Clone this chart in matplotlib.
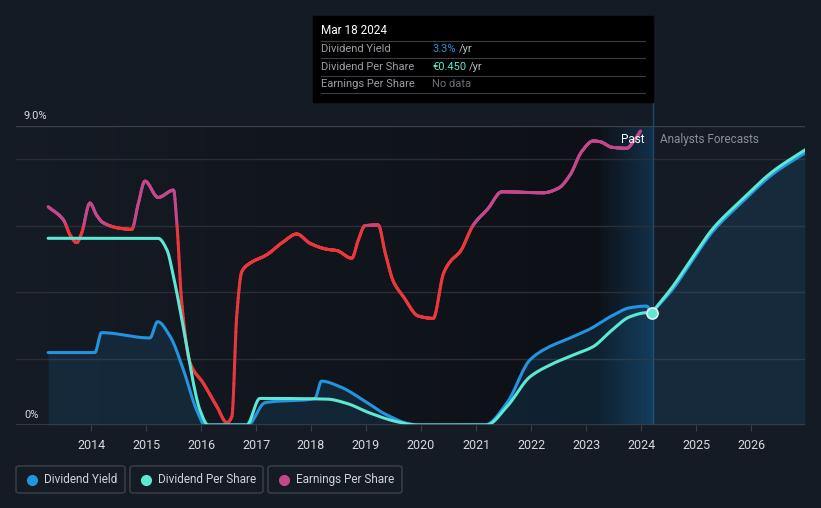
import numpy as np
import matplotlib
matplotlib.use("Agg")
import matplotlib.pyplot as plt
from matplotlib.collections import LineCollection
from matplotlib.colors import LinearSegmentedColormap
from matplotlib.patches import FancyBboxPatch, Rectangle

plt.rcParams['font.family'] = ['Roboto', 'DejaVu Sans']

# Dividend yield (%), past
dy_years = [2013.22, 2014.07, 2014.19, 2015.07, 2015.21, 2015.44, 2015.68, 2015.92, 2016.07,
            2016.85, 2017.16, 2018.07, 2018.19, 2018.53, 2018.95, 2019.38, 2019.80, 2019.98,
            2021.16, 2021.56, 2021.98, 2022.29, 2022.71, 2023.07, 2023.44, 2023.80, 2024.10, 2024.19]
dy_vals = [2.18, 2.18, 2.78, 2.62, 3.11, 2.66, 1.66, 0.45, 0.0,
           0.0, 0.67, 0.80, 1.32, 1.15, 0.75, 0.30, 0.03, 0.0,
           0.0, 0.66, 1.96, 2.32, 2.62, 2.89, 3.26, 3.53, 3.58, 3.37]

# Dividend per share (scaled onto the same axis), past
dps_years = [2013.22, 2015.22, 2015.38, 2015.50, 2015.62, 2015.74, 2015.86, 2015.98, 2016.13,
             2016.83, 2017.07, 2018.29, 2018.65, 2019.07, 2019.56, 2019.92,
             2021.19, 2021.56, 2021.98, 2022.35, 2022.77, 2023.13, 2023.44, 2023.80, 2024.10, 2024.19]
dps_vals = [5.62, 5.62, 5.27, 4.46, 3.46, 2.36, 1.26, 0.45, 0.0,
            0.0, 0.80, 0.78, 0.65, 0.36, 0.10, 0.0,
            0.0, 0.55, 1.45, 1.81, 2.11, 2.36, 2.81, 3.26, 3.38, 3.37]

# Forecasts
fc_years = [2024.19, 2024.59, 2024.89, 2025.31, 2025.80, 2026.40, 2026.98]
fc_dy = [3.37, 4.12, 4.85, 5.84, 6.65, 7.56, 8.19]
fc_dps = [3.37, 4.20, 4.93, 5.92, 6.73, 7.64, 8.28]

# Earnings per share (scaled onto the same axis)
eps_years = [2013.22, 2013.50, 2013.62, 2013.74, 2013.83, 2013.98, 2014.10, 2014.22, 2014.53, 2014.74,
             2014.86, 2014.98, 2015.22, 2015.50, 2015.56, 2015.65, 2015.80, 2016.04, 2016.29, 2016.47,
             2016.56, 2016.65, 2016.74, 2016.89, 2017.19, 2017.50, 2017.74, 2017.98, 2018.29, 2018.47,
             2018.74, 2018.86, 2018.98, 2019.22, 2019.35, 2019.50, 2019.68, 2019.95, 2020.22, 2020.41,
             2020.53, 2020.71, 2020.95, 2021.22, 2021.47, 2022.22, 2022.50, 2022.71, 2022.92, 2023.13,
             2023.25, 2023.47, 2023.74, 2023.86, 2023.99]
eps_vals = [6.57, 6.17, 5.72, 5.49, 5.78, 6.68, 6.32, 6.09, 5.92, 5.89,
            6.67, 7.34, 6.85, 7.07, 6.08, 3.67, 1.87, 1.26, 0.55, 0.07,
            0.25, 3.31, 4.61, 4.87, 5.12, 5.52, 5.75, 5.47, 5.29, 5.25,
            5.02, 5.57, 6.00, 6.02, 5.17, 4.31, 3.86, 3.28, 3.21, 4.57,
            4.92, 5.22, 6.02, 6.52, 7.02, 6.99, 7.13, 7.53, 8.23, 8.55,
            8.53, 8.36, 8.33, 8.53, 8.85]

year_ticks = list(range(2014, 2027))
now = 2024.21
past_start = 2023.2

BG = '#151b24'
BLUE = '#2394df'
TEAL = '#5de8d4'
PINK = '#c2478b'
RED = '#e8383d'


def smooth(xs, ys, n=1200):
    # monotone cubic (pchip) just for drawing a smooth curve through the read points
    x = np.asarray(xs, float)
    y = np.asarray(ys, float)
    h = np.diff(x)
    d = np.diff(y) / h
    m = np.zeros_like(y)
    for k in range(1, len(x) - 1):
        if d[k - 1] * d[k] > 0:
            w1 = 2 * h[k] + h[k - 1]
            w2 = h[k] + 2 * h[k - 1]
            m[k] = (w1 + w2) / (w1 / d[k - 1] + w2 / d[k])
    m[0] = d[0]
    m[-1] = d[-1]
    xn = np.linspace(x[0], x[-1], n)
    i = np.clip(np.searchsorted(x, xn) - 1, 0, len(x) - 2)
    t = (xn - x[i]) / h[i]
    h00 = 2 * t**3 - 3 * t**2 + 1
    h10 = t**3 - 2 * t**2 + t
    h01 = -2 * t**3 + 3 * t**2
    h11 = t**3 - t**2
    yn = h00 * y[i] + h10 * h[i] * m[i] + h01 * y[i + 1] + h11 * h[i] * m[i + 1]
    return xn, yn


W, H = 821, 508
fig = plt.figure(figsize=(W / 100, H / 100), dpi=100, facecolor=BG)
ax = fig.add_axes([16 / W, 1 - 425 / H, (805 - 16) / W, (425 - 126) / H])
ax.set_facecolor(BG)
ax.set_xlim(2012.636, 2026.98)
ax.set_ylim(0, 9)

# darker past background, then blue highlight for last year
grad = np.linspace(0, 1, 256).reshape(1, -1)
dark = LinearSegmentedColormap.from_list('d', [BG, '#0d1016'])
ax.imshow(grad, cmap=dark, extent=[2013.22, past_start, 0, 9], aspect='auto', zorder=0)
hl = LinearSegmentedColormap.from_list('h', ['#0d1117', '#12304a'])
ax.imshow(grad, cmap=hl, extent=[past_start, now, 0, 9], aspect='auto', zorder=0)

for g in [2, 4, 6, 8]:
    ax.axhline(g, color='#2a2f37', lw=1, zorder=1)
ax.axhline(9, color='#3b4048', lw=1, zorder=1)
ax.axhline(0, color='#3b4048', lw=1.2, zorder=5)

dyx, dyy = smooth(dy_years, dy_vals)
dpx, dpy = smooth(dps_years, dps_vals)
fcx, fcy = smooth(fc_years, fc_dy, 300)
fcx2, fcy2 = smooth(fc_years, fc_dps, 300)

# area fills
ax.fill_between(dyx, 0, dyy, color=BLUE, alpha=0.13, lw=0, zorder=2)
ax.fill_between(fcx2, 0, fcy2, color=BLUE, alpha=0.13, lw=0, zorder=2)

# EPS line coloured by level
xe, ye = smooth(eps_years, eps_vals, 1500)
pts = np.column_stack([xe, ye]).reshape(-1, 1, 2)
segs = np.concatenate([pts[:-1], pts[1:]], axis=1)
cm = LinearSegmentedColormap.from_list('e', [(0, RED), (0.45, RED), (0.55, PINK), (1, PINK)])
lc = LineCollection(segs, cmap=cm, norm=plt.Normalize(5.4, 6.6), lw=2.2, capstyle='round', zorder=3)
lc.set_array((ye[:-1] + ye[1:]) / 2)
ax.add_collection(lc)

ax.plot(dyx, dyy, color=BLUE, lw=2.2, solid_capstyle='round', zorder=4)
ax.plot(dpx, dpy, color=TEAL, lw=2.2, solid_capstyle='round', zorder=4)
ax.plot(fcx, fcy, color=BLUE, lw=2.2, zorder=4)
ax.plot(fcx2, fcy2, color=TEAL, lw=2.2, zorder=4)
ax.plot([fc_years[0]], [fc_dps[0]], 'o', ms=8, mfc=TEAL, mec='#e8eef0', mew=1.2, zorder=6)

ax.axvline(now, ymin=0, ymax=1, color='#1f4b6b', lw=1, zorder=1)
ax.plot([now, now], [9, 9.8], color='#1f4b6b', lw=1, clip_on=False, zorder=1)

for s in ax.spines.values():
    s.set_visible(False)
ax.set_yticks([])
ax.set_xticks(year_ticks)
ax.set_xticklabels([str(y) for y in year_ticks], color='#d8dadc', fontsize=9)
ax.tick_params(axis='x', length=4, color='#3b4048', pad=6)

ax.text(2012.78, 9.15, '9.0%', color='#d8dadc', fontsize=8, va='bottom')
ax.text(2012.78, 0.15, '0%', color='#d8dadc', fontsize=8, va='bottom')
ax.text(now - 0.15, 8.6, 'Past', color='white', fontsize=8.5, ha='right', va='center')
ax.text(now + 0.14, 8.6, 'Analysts Forecasts', color='#8a8f96', fontsize=8.5, ha='left', va='center')


def fx(px):
    return px / W


def fy(py):
    return 1 - py / H


# tooltip
fig.patches.append(Rectangle((fx(313), fy(102)), (653 - 313) / W, (102 - 16) / H,
                             transform=fig.transFigure, color='black', zorder=10))
fig.text(fx(321), fy(31), 'Mar 18 2024', color='white', fontsize=8.5, va='center', zorder=11)
rows = [('Dividend Yield', '3.3%', BLUE), ('Dividend Per Share', '€0.450', TEAL),
        ('Earnings Per Share', None, None)]
for i, (lab, val, col) in enumerate(rows):
    yy = 49 + i * 17.5
    fig.text(fx(321), fy(yy), lab, color='#9a9ea4', fontsize=8, va='center', zorder=11)
    if val:
        t = fig.text(fx(432), fy(yy), val, color=col, fontsize=8, va='center', zorder=11)
        fig.canvas.draw()
        bb = t.get_window_extent()
        fig.text((bb.x1 + 3) / W, fy(yy), '/yr', color='#b8bcc0', fontsize=8, va='center', zorder=11)
    else:
        fig.text(fx(432), fy(yy), 'No data', color='#6a6e74', fontsize=8, va='center', zorder=11)
for ly in [41, 58, 75.5, 93]:
    fig.add_artist(plt.Line2D([fx(321), fx(645)], [fy(ly), fy(ly)], color='#3a3d42', lw=0.8, zorder=11))

# legend boxes
legend = [('Dividend Yield', BLUE, 16, 125), ('Dividend Per Share', TEAL, 130, 263),
          ('Earnings Per Share', PINK, 268, 402)]
for lab, col, x0, x1 in legend:
    fig.patches.append(FancyBboxPatch((fx(x0), fy(493)), (x1 - x0) / W, 27 / H,
                                      boxstyle='round,pad=0,rounding_size=0.004',
                                      transform=fig.transFigure, fc='none', ec='#3d424a', lw=1))
    fig.add_artist(plt.Line2D([fx(x0 + 16)], [fy(479.5)], marker='o', ms=7, color=col, lw=0))
    fig.text(fx(x0 + 28), fy(479.5), lab, color='#d0d3d6', fontsize=8.5, va='center')

fig.savefig('out.png', dpi=100, facecolor=BG)
